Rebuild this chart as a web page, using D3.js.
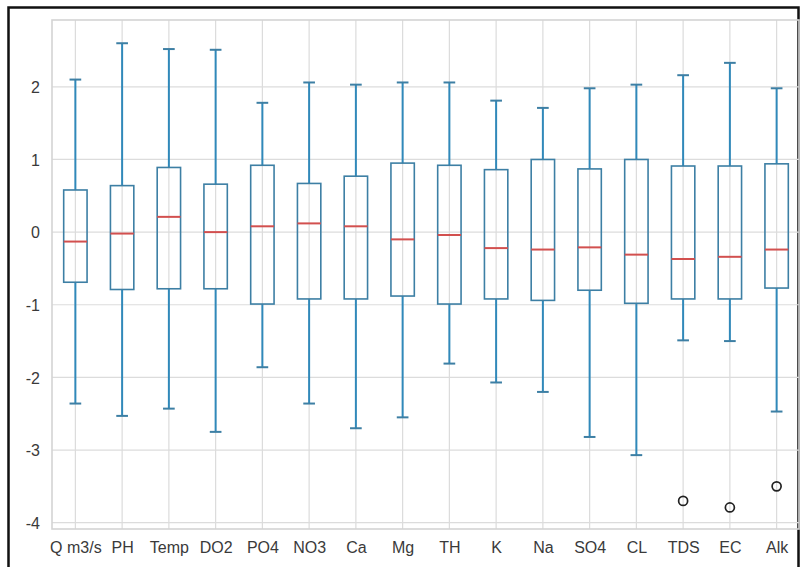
<!DOCTYPE html>
<html>
<head>
<meta charset="utf-8">
<script src="https://cdn.jsdelivr.net/npm/d3@7"></script>
<style>
  html, body { margin: 0; padding: 0; background: #fff; }
  svg { display: block; }
  text { font-family: "Liberation Sans", Arial, sans-serif; }
</style>
</head>
<body>
<svg id="chart" width="801" height="567"></svg>
<script>
const categories = ["Q m3/s","PH","Temp","DO2","PO4","NO3","Ca","Mg","TH","K","Na","SO4","CL","TDS","EC","Alk"];
const whiskerHigh = [2.10, 2.60, 2.52, 2.51, 1.78, 2.06, 2.03, 2.06, 2.06, 1.81, 1.71, 1.98, 2.03, 2.16, 2.33, 1.98];
const q3Values    = [0.58, 0.64, 0.89, 0.66, 0.92, 0.67, 0.77, 0.95, 0.92, 0.86, 1.00, 0.87, 1.00, 0.91, 0.91, 0.94];
const medians     = [-0.13, -0.02, 0.21, 0.00, 0.08, 0.12, 0.08, -0.10, -0.04, -0.22, -0.24, -0.21, -0.31, -0.37, -0.34, -0.24];
const q1Values    = [-0.69, -0.79, -0.78, -0.78, -0.99, -0.92, -0.92, -0.88, -0.99, -0.92, -0.94, -0.80, -0.98, -0.92, -0.92, -0.77];
const whiskerLow  = [-2.36, -2.53, -2.43, -2.75, -1.86, -2.36, -2.70, -2.55, -1.81, -2.07, -2.20, -2.82, -3.07, -1.49, -1.50, -2.47];
const outlierCats = ["TDS", "EC", "Alk"];
const outlierVals = [-3.70, -3.79, -3.50];
const yTicks = [2, 1, 0, -1, -2, -3, -4];
const yTickLabels = ["2", "1", "0", "-1", "-2", "-3", "-4"];

const svg = d3.select("#chart");
const plot = {left: 52, right: 799, top: 20, bottom: 529};

const x = d3.scaleLinear().domain([0.5, categories.length + 0.5]).range([plot.left, 800]);
const xc = c => x(categories.indexOf(c) + 1);
const y = d3.scaleLinear().domain([-4.087, 2.92]).range([plot.bottom, plot.top]);

// outer black border
svg.append("rect")
  .attr("x", 8.5).attr("y", 7.5)
  .attr("width", 790).attr("height", 570)
  .attr("fill", "none").attr("stroke", "#111").attr("stroke-width", 2.5);

// grid lines
const g = svg.append("g");
g.selectAll("line.hgrid").data(yTicks).join("line")
  .attr("class", "hgrid")
  .attr("x1", plot.left).attr("x2", plot.right)
  .attr("y1", d => y(d)).attr("y2", d => y(d))
  .attr("stroke", "#dcdcdc").attr("stroke-width", 1.2);
g.selectAll("line.vgrid").data(categories).join("line")
  .attr("class", "vgrid")
  .attr("x1", d => xc(d)).attr("x2", d => xc(d))
  .attr("y1", plot.top).attr("y2", plot.bottom)
  .attr("stroke", "#dcdcdc").attr("stroke-width", 1.2);

// plot frame
svg.append("rect")
  .attr("x", plot.left).attr("y", plot.top)
  .attr("width", plot.right - plot.left).attr("height", plot.bottom - plot.top)
  .attr("fill", "none").attr("stroke", "#d4d4d4").attr("stroke-width", 1.6);

// axes
const yAxis = d3.axisLeft(y).tickValues(yTicks).tickSize(0).tickPadding(12)
  .tickFormat(d => yTickLabels[yTicks.indexOf(d)]);
const ya = svg.append("g").attr("transform", `translate(${plot.left},0)`).call(yAxis);
ya.select(".domain").remove();
ya.selectAll("text").attr("font-size", 16).attr("fill", "#3a3a3a").attr("dy", "0.36em");

const xAxis = d3.axisBottom(x).tickValues(d3.range(1, categories.length + 1))
  .tickFormat(i => categories[i - 1]).tickSize(0).tickPadding(13);
const xa = svg.append("g").attr("transform", `translate(0,${plot.bottom})`).call(xAxis);
xa.select(".domain").remove();
xa.selectAll("text").attr("font-size", 16).attr("fill", "#3a3a3a");

// boxes
const boxW = (x(2) - x(1)) * 0.5;
const capW = boxW * 0.5;
const boxColor = "#3d7fa4";
const whiskColor = "#3089ba";
const data = categories.map((c, i) => ({c, hi: whiskerHigh[i], q3: q3Values[i], med: medians[i], q1: q1Values[i], lo: whiskerLow[i]}));

const bg = svg.append("g");
const items = bg.selectAll("g.box").data(data).join("g").attr("class", "box");

items.append("line")
  .attr("x1", d => xc(d.c)).attr("x2", d => xc(d.c))
  .attr("y1", d => y(d.q3)).attr("y2", d => y(d.hi))
  .attr("stroke", whiskColor).attr("stroke-width", 2);
items.append("line")
  .attr("x1", d => xc(d.c)).attr("x2", d => xc(d.c))
  .attr("y1", d => y(d.q1)).attr("y2", d => y(d.lo))
  .attr("stroke", whiskColor).attr("stroke-width", 2);
items.append("line")
  .attr("x1", d => xc(d.c) - capW / 2).attr("x2", d => xc(d.c) + capW / 2)
  .attr("y1", d => y(d.hi)).attr("y2", d => y(d.hi))
  .attr("stroke", boxColor).attr("stroke-width", 2);
items.append("line")
  .attr("x1", d => xc(d.c) - capW / 2).attr("x2", d => xc(d.c) + capW / 2)
  .attr("y1", d => y(d.lo)).attr("y2", d => y(d.lo))
  .attr("stroke", boxColor).attr("stroke-width", 2);
items.append("rect")
  .attr("x", d => xc(d.c) - boxW / 2).attr("width", boxW)
  .attr("y", d => y(d.q3)).attr("height", d => y(d.q1) - y(d.q3))
  .attr("fill", "none").attr("stroke", boxColor).attr("stroke-width", 1.6);
items.append("line")
  .attr("x1", d => xc(d.c) - boxW / 2).attr("x2", d => xc(d.c) + boxW / 2)
  .attr("y1", d => y(d.med)).attr("y2", d => y(d.med))
  .attr("stroke", "#d2504f").attr("stroke-width", 2);

// outliers
svg.append("g").selectAll("circle").data(outlierVals).join("circle")
  .attr("cx", (d, i) => xc(outlierCats[i]))
  .attr("cy", d => y(d))
  .attr("r", 4.5)
  .attr("fill", "none").attr("stroke", "#222").attr("stroke-width", 1.7);
</script>
</body>
</html>
